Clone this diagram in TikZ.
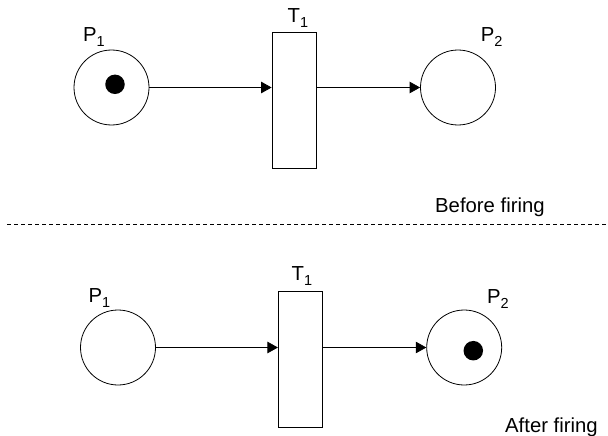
\documentclass[tikz,border=0pt]{standalone}
\usepackage{fontspec}
\setmainfont{Liberation Sans}
\usetikzlibrary{arrows.meta}
\newcommand{\sbs}[1]{\raisebox{-5pt}{\fontsize{14.5}{15}\selectfont #1}}
\tikzset{
  place/.style={circle,draw,line width=0.8pt,minimum size=75pt,inner sep=0pt},
  trans/.style={rectangle,draw,line width=0.8pt,minimum width=44pt,minimum height=136pt,inner sep=0pt},
  token/.style={circle,fill=black,minimum size=19.5pt,inner sep=0pt},
  lbl/.style={anchor=base west,inner sep=0pt,font=\fontsize{20.3}{23}\selectfont},
  arc/.style={line width=0.8pt,-{Triangle[length=10.5pt,width=11.5pt]}},
  sep/.style={line width=0.8pt,dash pattern=on 4pt off 3pt}
}
\begin{document}
\begin{tikzpicture}[x=1pt,y=-1pt]
\useasboundingbox (0,0) rectangle (608,436);
% before firing
\node[place] (p1a) at (111.5,87.5) {};
\node[token] (k1) at (115,84.3) {};
\node[trans] (t1a) at (294,100) {};
\node[place] (p2a) at (458,87.5) {};
\node[lbl] (lp1a) at (83,42) {P\sbs{1}};
\node[lbl] (lt1a) at (287.5,22.5) {T\sbs{1}};
\node[lbl] (lp2a) at (480.7,41.7) {P\sbs{2}};
\node[lbl] (bf) at (435,212.7) {Before firing};
\draw[arc] (p1a.east) -- (p1a.east -| t1a.west);
\draw[arc] (t1a.east |- p2a.west) -- (p2a.west);
% separator
\coordinate (sl) at (7,224);
\coordinate (sr) at (608,224);
\draw[sep] (sl) -- (sr);
% after firing
\node[place] (p1b) at (118,347.5) {};
\node[trans] (t1b) at (300.3,359.7) {};
\node[place] (p2b) at (464.2,347.5) {};
\node[token] (k2) at (473.3,350.7) {};
\node[lbl] (lp1b) at (88.3,302.7) {P\sbs{1}};
\node[lbl] (lt1b) at (291.5,280.5) {T\sbs{1}};
\node[lbl] (lp2b) at (487,303.5) {P\sbs{2}};
\node[lbl] (af) at (505,432.3) {After firing};
\draw[arc] (p1b.east) -- (p1b.east -| t1b.west);
\draw[arc] (t1b.east |- p2b.west) -- (p2b.west);
\end{tikzpicture}
\end{document}
